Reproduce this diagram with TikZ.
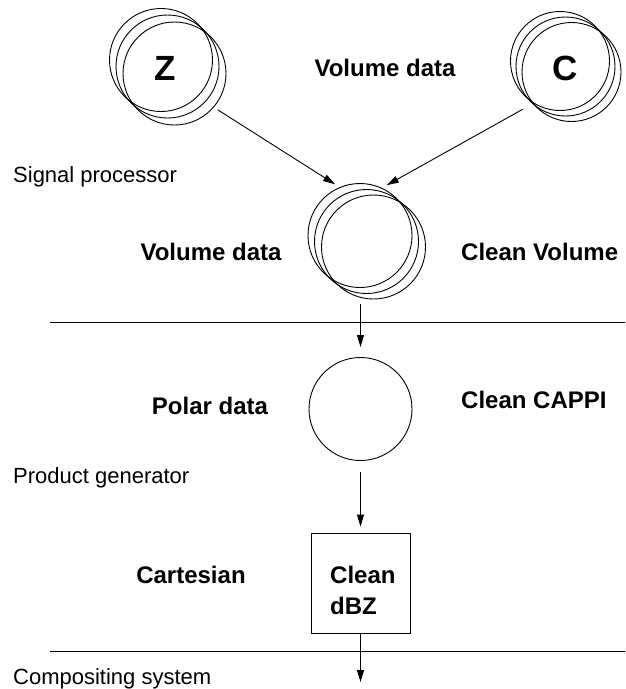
\documentclass[tikz,border=0pt]{standalone}
\usepackage{fontspec}
\setmainfont{Liberation Sans}
\usetikzlibrary{arrows.meta}
\begin{document}
\begin{tikzpicture}[x=1pt,y=-1pt,
  ring/.style={circle,draw,line width=0.9pt,inner sep=0pt,outer sep=5pt},
  arr/.style={-{Triangle[length=12pt,width=7pt]},line width=0.9pt},
  rule/.style={line width=0.9pt},
  big/.style={font=\fontsize{35}{40}\selectfont\bfseries,inner sep=0pt},
  lbl/.style={font=\fontsize{24}{28}\selectfont\bfseries,inner sep=0pt},
  note/.style={font=\fontsize{22}{26}\selectfont,inner sep=0pt,anchor=base west},
]
\useasboundingbox (0,0) rectangle (625,689);
% Z stack
\node[ring,minimum size=103pt] (z1) at (161,60) {};
\node[ring,minimum size=103pt] (z2) at (167.5,66.5) {};
\node[ring,minimum size=103pt] (z3) at (174.5,73.5) {};
\node[big,anchor=base] (zt) at (165,80.5) {Z};
% C stack
\node[ring,minimum size=99pt,outer sep=11pt] (c1) at (560,61) {};
\node[ring,minimum size=99pt,outer sep=11pt] (c2) at (565.5,66.5) {};
\node[ring,minimum size=99pt,outer sep=11pt] (c3) at (571.5,72) {};
\node[big,anchor=base] (ct) at (565,80) {C};
\node[lbl,anchor=base] (vd1) at (385,76) {Volume data};
% middle stack
\node[ring,minimum size=104pt] (m1) at (360,235.5) {};
\node[ring,minimum size=104pt] (m2) at (366.5,241.5) {};
\node[ring,minimum size=104pt] (m3) at (373.5,247) {};
\node[note] (sp) at (13,182) {Signal processor};
\node[lbl,anchor=base] (vd2) at (211,260) {Volume data};
\node[lbl,anchor=base west] (cv) at (461,260) {Clean Volume};
\draw[arr] (z3.-40) -- (m1.116);
\draw[arr] (c2.225) -- (m1.62);
% rule 1
\coordinate (l1a) at (50,322);
\coordinate (l1b) at (625,322);
\draw[rule] (l1a) -- (l1b);
% polar
\node[ring,minimum size=103pt,outer sep=0pt] (pc) at (360.5,409) {};
\draw[arr,shorten >=10.5pt] (m3.south -| pc.north) -- (pc.north);
\node[lbl,anchor=base] (pd) at (210,414) {Polar data};
\node[lbl,anchor=base west] (cc) at (461,408) {Clean CAPPI};
\node[note] (pg) at (13,483) {Product generator};
% box
\node[draw,line width=0.9pt,minimum width=99pt,minimum height=100pt,inner sep=0pt] (bx) at (360.5,583) {};
\node[lbl,anchor=base west] (cl) at (330,583) {Clean};
\node[lbl,anchor=base west] (dz) at (330,614) {dBZ};
\node[lbl,anchor=base] (ca) at (191,583) {Cartesian};
\draw[arr,shorten <=11.5pt,shorten >=6pt] (pc.south) -- (bx.north);
% rule 2
\coordinate (l2a) at (50,651);
\coordinate (l2b) at (625,651);
\draw[rule] (l2a) -- (l2b);
\coordinate (out) at (360.5,682);
\draw[arr] (bx.south) -- (out);
\node[note] (cs) at (13,684) {Compositing system};
\end{tikzpicture}
\end{document}
